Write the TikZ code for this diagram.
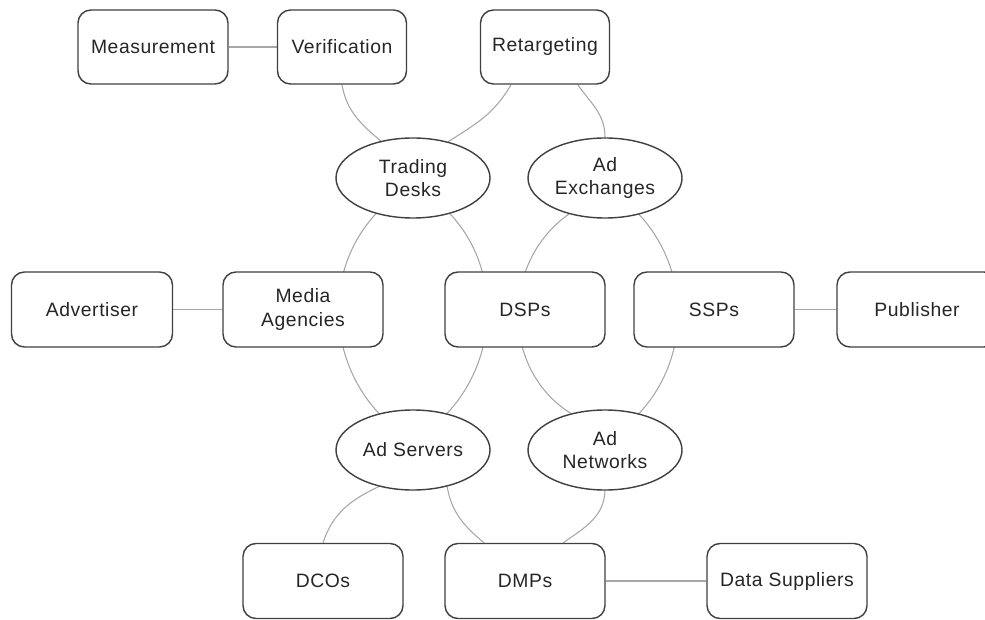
\documentclass[tikz,border=0pt]{standalone}
\usepackage{fontspec}
\setmainfont[LetterSpace=3]{Liberation Sans}
\usetikzlibrary{shapes.geometric,backgrounds}

\begin{document}
\begin{tikzpicture}[
    box/.style={draw=black!75, line width=0.8pt, rounded corners=0.26cm, fill=white,
      minimum width=3.2cm, minimum height=1.5cm, align=center, text=black!85,
      font=\fontsize{11}{13.5}\selectfont},
    oval/.style={ellipse, draw=black!75, line width=0.8pt, fill=white, inner sep=1pt,
      minimum width=3.08cm, minimum height=1.6cm, align=center, text=black!85,
      font=\fontsize{11}{13.5}\selectfont},
    link/.style={black!35, line width=0.6pt}]
        % Frame
        \useasboundingbox (0,0) rectangle (19.7,12.38);

        % Top row
        \node[box, minimum width=3.0cm, minimum height=1.48cm] (meas) at (3.06,11.44) {Measurement};
        \node[box, minimum width=2.58cm, minimum height=1.48cm] (verif) at (6.84,11.44) {Verification};
        \node[box, minimum width=2.58cm, minimum height=1.48cm] (retarg) at (10.9,11.44) {Retargeting};

        % Upper ellipses
        \node[oval] (td) at (8.26,8.82) {Trading\\Desks};
        \node[oval] (ax) at (12.1,8.82) {Ad\\Exchanges};

        % Middle row
        \node[box, minimum width=3.22cm] (adv) at (1.84,6.19) {Advertiser};
        \node[box] (ma) at (6.06,6.19) {Media\\Agencies};
        \node[box] (dsp) at (10.5,6.19) {DSPs};
        \node[box] (ssp) at (14.28,6.19) {SSPs};
        \node[box] (pub) at (18.34,6.19) {Publisher};

        % Lower ellipses
        \node[oval] (as) at (8.26,3.38) {Ad Servers};
        \node[oval] (an) at (12.1,3.38) {Ad\\Networks};

        % Bottom row
        \node[box] (dco) at (6.46,0.76) {DCOs};
        \node[box] (dmp) at (10.5,0.76) {DMPs};
        \node[box] (ds) at (15.74,0.76) {Data Suppliers};

        % Links, behind the boxes
        \begin{scope}[on background layer]
        \draw[link] (meas) -- (verif);
        \draw[link] (verif.south) to[out=-80,in=140] (td.131);
        \draw[link] (retarg.228) to[out=240,in=32] (td.46);
        \draw[link] (retarg.-49) to[out=-55,in=90] (ax.north);

        % the two rings round Media Agencies/DSPs and DSPs/SSPs
        \draw[link] (td.224) .. controls +(227:1.52) and +(133:1.52) .. (as.133);
        \draw[link] (td.316) .. controls +(-47:1.52) and +(47:1.52) .. (as.47);
        \draw[link] (ax.225) .. controls +(215:1.66) and +(148:1.66) .. (an.133);
        \draw[link] (ax.313) .. controls +(-47:1.52) and +(47:1.52) .. (an.47);

        \draw[link] (adv) -- (ma);
        \draw[link] (ssp) -- (pub);

        \draw[link] (as.227) to[out=205,in=72] (dco.north);
        \draw[link] (as.-47) to[out=-80,in=140] (dmp.137);
        \draw[link] (an.south) to[out=-92,in=35] (dmp.45);
        \draw[link] (dmp) -- (ds);
        \end{scope}
      \end{tikzpicture}
\end{document}
